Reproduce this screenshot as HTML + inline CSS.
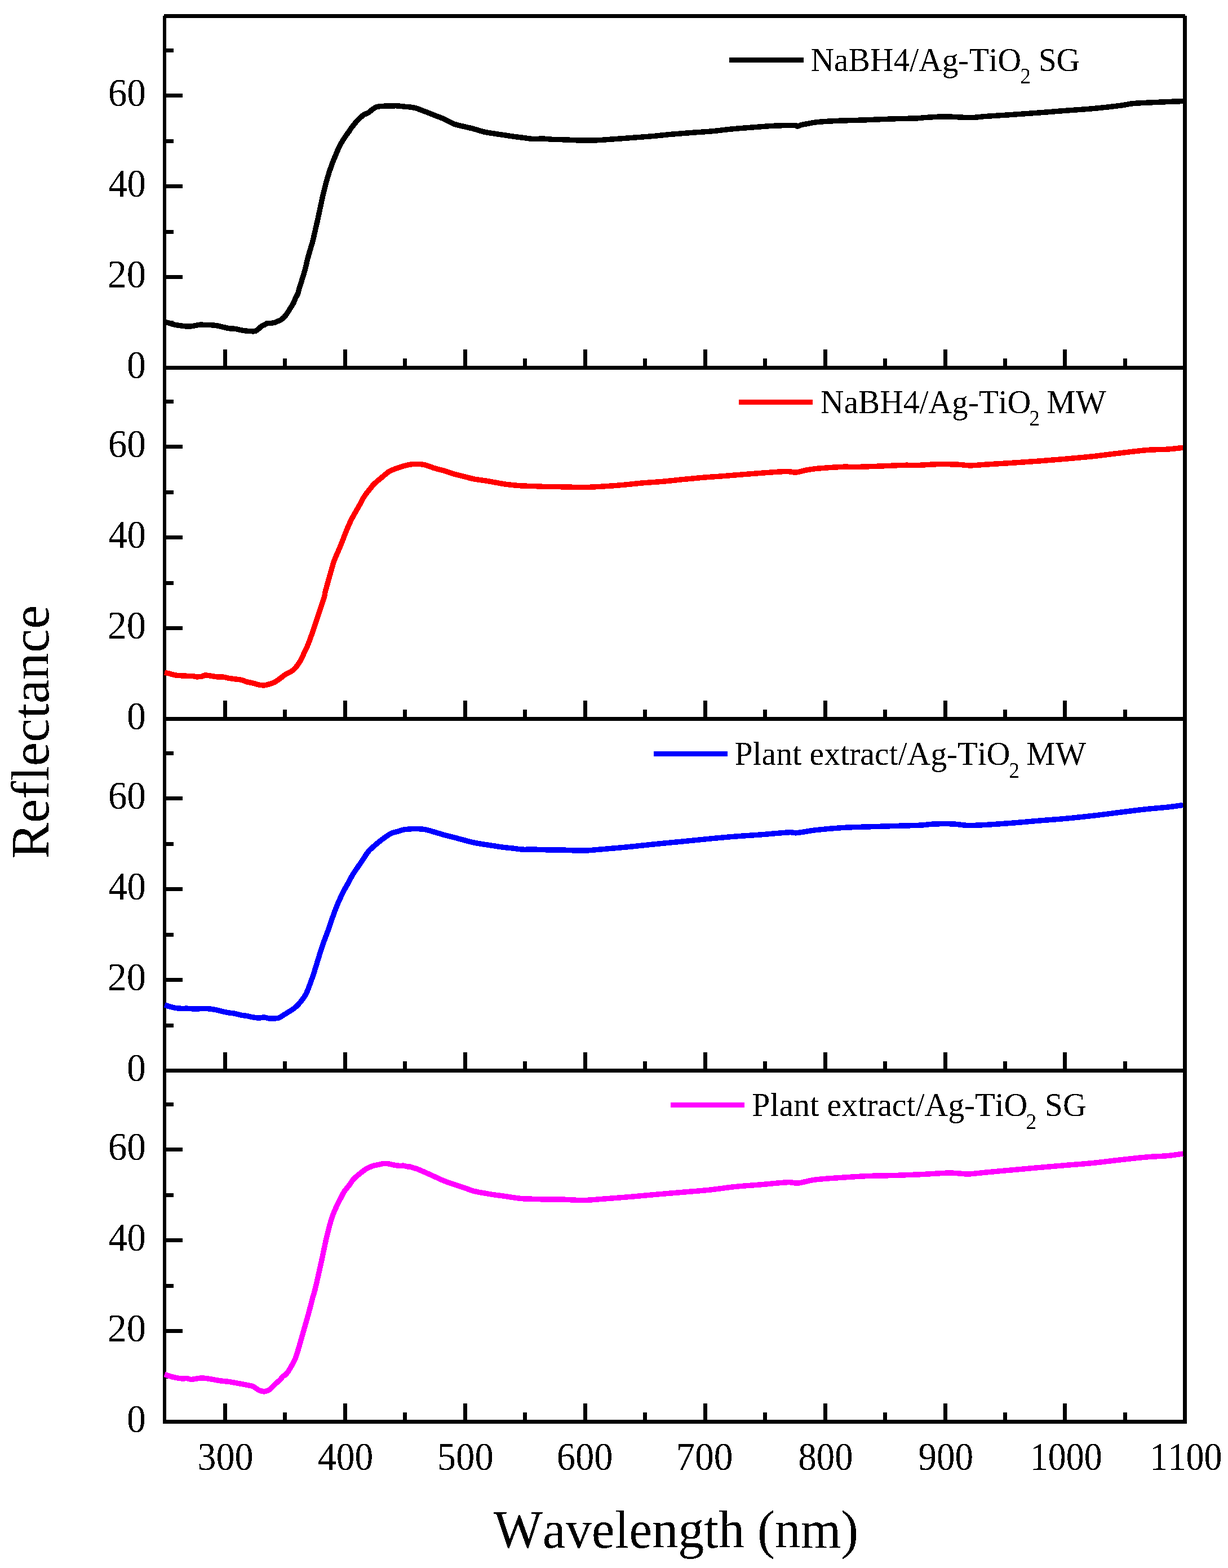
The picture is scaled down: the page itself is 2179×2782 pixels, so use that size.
<!DOCTYPE html>
<html><head><meta charset="utf-8"><title>Reflectance vs Wavelength</title>
<style>html,body{margin:0;padding:0;background:#fff;}svg{display:block;}text{font-kerning:none;}</style></head>
<body>
<svg width="2179" height="2782" viewBox="0 0 2179 2782" shape-rendering="crispEdges">
<defs><filter id="bin" filterUnits="userSpaceOnUse" x="0" y="0" width="2179" height="2782"><feComponentTransfer><feFuncA type="discrete" tableValues="0 1"/></feComponentTransfer></filter></defs>
<rect x="0" y="0" width="2179" height="2782" fill="#fff"/>
<rect x="294" y="569" width="14" height="7" fill="#000"/>
<rect x="294" y="488" width="30" height="7" fill="#000"/>
<rect x="294" y="408" width="14" height="7" fill="#000"/>
<rect x="294" y="327" width="30" height="7" fill="#000"/>
<rect x="294" y="247" width="14" height="7" fill="#000"/>
<rect x="294" y="166" width="30" height="7" fill="#000"/>
<rect x="294" y="86" width="14" height="7" fill="#000"/>
<rect x="294" y="1192" width="14" height="7" fill="#000"/>
<rect x="294" y="1111" width="30" height="7" fill="#000"/>
<rect x="294" y="1031" width="14" height="7" fill="#000"/>
<rect x="294" y="950" width="30" height="7" fill="#000"/>
<rect x="294" y="870" width="14" height="7" fill="#000"/>
<rect x="294" y="789" width="30" height="7" fill="#000"/>
<rect x="294" y="709" width="14" height="7" fill="#000"/>
<rect x="294" y="1816" width="14" height="7" fill="#000"/>
<rect x="294" y="1735" width="30" height="7" fill="#000"/>
<rect x="294" y="1655" width="14" height="7" fill="#000"/>
<rect x="294" y="1574" width="30" height="7" fill="#000"/>
<rect x="294" y="1494" width="14" height="7" fill="#000"/>
<rect x="294" y="1413" width="30" height="7" fill="#000"/>
<rect x="294" y="1333" width="14" height="7" fill="#000"/>
<rect x="294" y="2439" width="14" height="7" fill="#000"/>
<rect x="294" y="2358" width="30" height="7" fill="#000"/>
<rect x="294" y="2278" width="14" height="7" fill="#000"/>
<rect x="294" y="2197" width="30" height="7" fill="#000"/>
<rect x="294" y="2117" width="14" height="7" fill="#000"/>
<rect x="294" y="2036" width="30" height="7" fill="#000"/>
<rect x="294" y="1956" width="14" height="7" fill="#000"/>
<rect x="396" y="620" width="6.5" height="30" fill="#000"/>
<rect x="502" y="636" width="6.5" height="14" fill="#000"/>
<rect x="609" y="620" width="6.5" height="30" fill="#000"/>
<rect x="715" y="636" width="6.5" height="14" fill="#000"/>
<rect x="822" y="620" width="6.5" height="30" fill="#000"/>
<rect x="928" y="636" width="6.5" height="14" fill="#000"/>
<rect x="1035" y="620" width="6.5" height="30" fill="#000"/>
<rect x="1141" y="636" width="6.5" height="14" fill="#000"/>
<rect x="1248" y="620" width="6.5" height="30" fill="#000"/>
<rect x="1354" y="636" width="6.5" height="14" fill="#000"/>
<rect x="1461" y="620" width="6.5" height="30" fill="#000"/>
<rect x="1567" y="636" width="6.5" height="14" fill="#000"/>
<rect x="1674" y="620" width="6.5" height="30" fill="#000"/>
<rect x="1780" y="636" width="6.5" height="14" fill="#000"/>
<rect x="1886" y="620" width="6.5" height="30" fill="#000"/>
<rect x="1993" y="636" width="6.5" height="14" fill="#000"/>
<rect x="396" y="1243" width="6.5" height="30" fill="#000"/>
<rect x="502" y="1259" width="6.5" height="14" fill="#000"/>
<rect x="609" y="1243" width="6.5" height="30" fill="#000"/>
<rect x="715" y="1259" width="6.5" height="14" fill="#000"/>
<rect x="822" y="1243" width="6.5" height="30" fill="#000"/>
<rect x="928" y="1259" width="6.5" height="14" fill="#000"/>
<rect x="1035" y="1243" width="6.5" height="30" fill="#000"/>
<rect x="1141" y="1259" width="6.5" height="14" fill="#000"/>
<rect x="1248" y="1243" width="6.5" height="30" fill="#000"/>
<rect x="1354" y="1259" width="6.5" height="14" fill="#000"/>
<rect x="1461" y="1243" width="6.5" height="30" fill="#000"/>
<rect x="1567" y="1259" width="6.5" height="14" fill="#000"/>
<rect x="1674" y="1243" width="6.5" height="30" fill="#000"/>
<rect x="1780" y="1259" width="6.5" height="14" fill="#000"/>
<rect x="1886" y="1243" width="6.5" height="30" fill="#000"/>
<rect x="1993" y="1259" width="6.5" height="14" fill="#000"/>
<rect x="396" y="1867" width="6.5" height="30" fill="#000"/>
<rect x="502" y="1883" width="6.5" height="14" fill="#000"/>
<rect x="609" y="1867" width="6.5" height="30" fill="#000"/>
<rect x="715" y="1883" width="6.5" height="14" fill="#000"/>
<rect x="822" y="1867" width="6.5" height="30" fill="#000"/>
<rect x="928" y="1883" width="6.5" height="14" fill="#000"/>
<rect x="1035" y="1867" width="6.5" height="30" fill="#000"/>
<rect x="1141" y="1883" width="6.5" height="14" fill="#000"/>
<rect x="1248" y="1867" width="6.5" height="30" fill="#000"/>
<rect x="1354" y="1883" width="6.5" height="14" fill="#000"/>
<rect x="1461" y="1867" width="6.5" height="30" fill="#000"/>
<rect x="1567" y="1883" width="6.5" height="14" fill="#000"/>
<rect x="1674" y="1867" width="6.5" height="30" fill="#000"/>
<rect x="1780" y="1883" width="6.5" height="14" fill="#000"/>
<rect x="1886" y="1867" width="6.5" height="30" fill="#000"/>
<rect x="1993" y="1883" width="6.5" height="14" fill="#000"/>
<rect x="396" y="2490" width="6.5" height="30" fill="#000"/>
<rect x="502" y="2506" width="6.5" height="14" fill="#000"/>
<rect x="609" y="2490" width="6.5" height="30" fill="#000"/>
<rect x="715" y="2506" width="6.5" height="14" fill="#000"/>
<rect x="822" y="2490" width="6.5" height="30" fill="#000"/>
<rect x="928" y="2506" width="6.5" height="14" fill="#000"/>
<rect x="1035" y="2490" width="6.5" height="30" fill="#000"/>
<rect x="1141" y="2506" width="6.5" height="14" fill="#000"/>
<rect x="1248" y="2490" width="6.5" height="30" fill="#000"/>
<rect x="1354" y="2506" width="6.5" height="14" fill="#000"/>
<rect x="1461" y="2490" width="6.5" height="30" fill="#000"/>
<rect x="1567" y="2506" width="6.5" height="14" fill="#000"/>
<rect x="1674" y="2490" width="6.5" height="30" fill="#000"/>
<rect x="1780" y="2506" width="6.5" height="14" fill="#000"/>
<rect x="1886" y="2490" width="6.5" height="30" fill="#000"/>
<rect x="1993" y="2506" width="6.5" height="14" fill="#000"/>
<rect x="291" y="25" width="1812" height="7" fill="#000"/>
<rect x="289" y="649" width="1817" height="7" fill="#000"/>
<rect x="289" y="1272" width="1817" height="7" fill="#000"/>
<rect x="289" y="1896" width="1817" height="7" fill="#000"/>
<rect x="289" y="2519" width="1817" height="7" fill="#000"/>
<rect x="289" y="28" width="6" height="2495" fill="#000"/>
<rect x="2099" y="28" width="7" height="2495" fill="#000"/>
<path d="M292.0,571.5 C292.6,571.6 293.9,571.6 295.3,571.9 C296.7,572.2 297.9,572.6 300.5,573.4 C303.1,574.1 307.6,575.6 311.1,576.4 C314.6,577.1 318.1,577.4 321.6,577.9 C325.1,578.4 328.7,579.0 332.2,579.1 C335.7,579.2 339.2,578.9 342.7,578.4 C346.2,577.9 349.7,576.6 353.2,576.3 C356.7,576.0 360.2,576.3 363.8,576.4 C367.4,576.5 371.4,576.5 375.0,576.7 C378.6,577.0 382.0,577.3 385.5,577.9 C389.0,578.5 392.6,579.5 396.1,580.3 C399.6,581.1 403.1,582.2 406.6,582.7 C410.1,583.2 413.6,582.9 417.1,583.4 C420.6,583.9 424.2,585.1 427.7,585.7 C431.2,586.3 434.7,586.9 438.2,587.2 C441.7,587.6 446.2,587.8 448.8,587.8 C451.4,587.8 452.1,588.0 454.0,587.1 C455.9,586.2 458.2,584.0 460.0,582.5 C461.8,581.0 463.1,579.3 464.7,578.3 C466.3,577.3 467.8,577.2 469.4,576.4 C470.9,575.6 472.1,574.0 474.0,573.5 C475.9,573.0 478.8,573.6 481.1,573.4 C483.5,573.1 486.2,572.6 488.1,572.0 C490.1,571.4 491.2,570.6 492.8,569.9 C494.4,569.2 495.9,568.9 497.5,568.0 C499.1,567.1 500.6,565.9 502.2,564.5 C503.8,563.1 505.2,561.6 506.8,559.6 C508.4,557.6 510.0,555.1 511.5,552.8 C513.0,550.4 514.5,547.9 516.0,545.5 C517.5,543.1 518.8,541.4 520.2,538.7 C521.6,536.0 522.8,532.5 524.2,529.4 C525.7,526.3 527.7,523.2 528.9,520.0 C530.1,516.8 529.6,516.2 531.5,510.0 C533.4,503.8 537.5,491.8 540.1,482.6 C542.7,473.4 544.5,464.2 547.0,455.0 C549.5,445.8 552.6,436.7 555.0,427.5 C557.4,418.3 559.8,406.2 561.3,400.0 C562.8,393.8 562.3,396.2 563.7,390.0 C565.1,383.8 567.5,371.8 569.5,362.6 C571.5,353.4 573.5,344.2 575.8,335.0 C578.1,325.8 580.8,316.0 583.5,307.5 C586.2,299.0 589.9,289.0 591.9,283.8 C593.9,278.6 594.2,278.8 595.3,276.3 C596.4,273.8 597.2,271.1 598.3,268.6 C599.4,266.1 600.6,263.6 601.8,261.2 C603.0,258.8 604.2,256.3 605.5,253.9 C606.8,251.5 608.2,249.2 609.7,246.9 C611.2,244.6 612.5,242.5 614.2,240.1 C615.9,237.7 618.3,234.8 619.8,232.6 C621.3,230.4 622.1,228.7 623.4,226.8 C624.7,225.0 626.1,223.6 627.8,221.5 C629.5,219.4 631.5,216.6 633.6,214.3 C635.7,212.0 638.5,209.6 640.5,207.8 C642.5,206.0 643.6,204.7 645.7,203.4 C647.8,202.1 650.8,201.7 653.3,200.2 C655.8,198.7 658.2,196.0 660.6,194.3 C663.0,192.6 665.5,190.9 667.6,190.0 C669.7,189.1 670.5,189.1 673.0,188.8 C675.5,188.5 679.5,188.4 682.5,188.2 C685.5,188.0 688.0,187.9 690.7,187.8 C693.5,187.7 696.7,187.8 699.0,187.8 C701.3,187.8 701.3,187.6 704.4,187.8 C707.5,188.0 712.5,188.5 717.6,189.1 C722.7,189.7 729.2,189.8 735.1,191.2 C741.0,192.6 746.8,195.1 752.7,197.3 C758.6,199.5 764.4,202.0 770.3,204.3 C776.1,206.6 781.9,208.4 787.8,211.0 C793.6,213.6 799.5,217.6 805.4,219.8 C811.3,222.1 817.1,223.0 823.0,224.5 C828.9,226.0 834.6,227.0 840.5,228.6 C846.4,230.2 852.2,232.4 858.1,233.8 C864.0,235.2 869.9,235.9 875.7,236.8 C881.6,237.8 887.4,238.6 893.2,239.5 C899.1,240.4 904.9,241.3 910.8,242.1 C916.7,242.9 922.5,243.7 928.4,244.4 C934.2,245.1 940.0,246.2 945.9,246.5 C951.8,246.8 957.6,245.9 963.5,246.1 C969.4,246.2 974.9,247.1 981.0,247.4 C987.1,247.7 991.0,247.5 1000.0,247.8 C1009.0,248.1 1024.8,249.0 1035.1,249.2 C1045.3,249.3 1052.7,249.1 1061.5,248.7 C1070.3,248.3 1077.5,247.6 1087.8,246.9 C1098.0,246.2 1111.3,245.2 1123.0,244.3 C1134.7,243.4 1146.4,242.6 1158.1,241.6 C1169.8,240.6 1181.5,239.1 1193.2,238.1 C1204.9,237.1 1216.6,236.2 1228.3,235.3 C1240.0,234.4 1251.5,233.9 1263.5,232.8 C1275.5,231.7 1288.1,229.9 1300.0,228.8 C1311.9,227.7 1323.4,226.9 1335.1,226.0 C1346.8,225.1 1357.8,224.0 1370.3,223.4 C1382.8,222.8 1402.7,222.4 1410.1,222.5 C1417.5,222.6 1412.8,224.3 1414.8,224.1 C1416.8,223.9 1419.3,222.2 1422.0,221.5 C1424.7,220.8 1426.4,220.7 1431.1,219.9 C1435.8,219.1 1440.5,217.5 1449.9,216.6 C1459.3,215.7 1473.4,214.9 1487.4,214.3 C1501.5,213.7 1518.6,213.5 1534.2,212.9 C1549.8,212.3 1565.4,211.5 1581.0,211.0 C1596.6,210.5 1618.1,210.2 1627.9,209.8 C1637.7,209.4 1631.8,209.2 1639.6,208.7 C1647.4,208.2 1664.6,207.0 1674.7,206.8 C1684.8,206.7 1691.8,207.5 1700.0,207.8 C1708.2,208.1 1716.0,208.9 1724.0,208.7 C1732.0,208.5 1736.0,207.4 1748.0,206.5 C1760.0,205.6 1780.0,204.5 1796.0,203.4 C1812.0,202.3 1828.0,201.2 1844.0,200.0 C1860.0,198.8 1876.0,197.4 1892.0,196.2 C1908.0,195.0 1924.0,194.1 1940.0,192.6 C1956.0,191.1 1976.0,188.8 1988.0,187.3 C2000.0,185.8 2000.0,184.5 2012.0,183.5 C2024.0,182.5 2045.5,181.8 2060.0,181.1 C2074.5,180.4 2092.5,179.8 2099.0,179.6" fill="none" stroke="#000" stroke-width="9.5" stroke-linejoin="round" stroke-linecap="butt" shape-rendering="crispEdges"/>
<path d="M292.1,1193.4 C293.5,1193.7 297.3,1194.2 300.5,1195.0 C303.7,1195.8 307.6,1197.4 311.1,1198.0 C314.6,1198.6 318.1,1198.6 321.6,1198.8 C325.1,1199.0 328.7,1199.2 332.2,1199.3 C335.7,1199.4 340.1,1199.2 342.7,1199.5 C345.3,1199.8 345.4,1200.7 348.0,1200.8 C350.6,1200.9 355.9,1200.6 358.5,1200.1 C361.1,1199.6 361.1,1198.0 363.8,1197.9 C366.6,1197.8 371.4,1198.8 375.0,1199.3 C378.6,1199.8 382.0,1200.6 385.5,1200.9 C389.0,1201.2 392.6,1200.8 396.1,1201.2 C399.6,1201.6 403.1,1202.8 406.6,1203.4 C410.1,1204.0 413.6,1204.4 417.1,1204.9 C420.6,1205.4 424.2,1205.4 427.7,1206.2 C431.2,1207.0 434.7,1208.8 438.2,1209.8 C441.7,1210.8 445.2,1211.1 448.8,1212.0 C452.4,1212.9 456.6,1214.6 460.0,1215.2 C463.4,1215.8 466.3,1216.1 469.4,1215.8 C472.5,1215.5 475.6,1214.5 478.7,1213.5 C481.8,1212.5 485.0,1211.7 488.1,1210.0 C491.2,1208.3 494.4,1205.7 497.5,1203.4 C500.6,1201.1 503.7,1198.4 506.8,1196.4 C509.9,1194.4 513.9,1192.8 516.2,1191.5 C518.6,1190.2 519.3,1189.8 520.9,1188.4 C522.5,1187.0 524.0,1185.2 525.6,1183.3 C527.2,1181.3 528.8,1178.9 530.3,1176.7 C531.8,1174.5 532.7,1173.4 534.4,1170.0 C536.1,1166.6 538.4,1161.1 540.5,1156.5 C542.6,1151.9 544.3,1149.5 547.0,1142.6 C549.7,1135.7 553.7,1124.2 556.9,1115.0 C560.1,1105.8 563.0,1096.7 566.1,1087.5 C569.2,1078.3 573.4,1066.2 575.2,1060.0 C577.1,1053.8 575.6,1056.2 577.2,1050.0 C578.8,1043.8 582.2,1031.8 584.8,1022.6 C587.4,1013.4 589.7,1004.2 593.0,995.0 C596.3,985.8 600.9,976.7 604.6,967.5 C608.3,958.3 612.2,947.5 615.3,940.0 C618.4,932.5 620.6,927.7 623.2,922.4 C625.8,917.1 628.3,913.1 630.9,908.4 C633.5,903.7 636.4,899.0 639.0,894.3 C641.6,889.6 643.6,885.0 646.7,880.3 C649.8,875.6 654.9,869.7 657.6,866.2 C660.4,862.7 659.9,862.4 663.2,859.2 C666.5,856.0 672.6,851.1 677.3,847.2 C682.0,843.3 686.6,838.8 691.3,836.0 C696.0,833.2 700.7,832.2 705.4,830.5 C710.1,828.8 714.4,827.2 719.4,826.0 C724.4,824.8 729.5,823.6 735.1,823.4 C740.7,823.1 746.8,823.3 752.7,824.5 C758.6,825.7 764.4,828.7 770.3,830.5 C776.1,832.3 781.9,833.5 787.8,835.2 C793.6,837.0 799.5,839.3 805.4,841.0 C811.3,842.7 817.1,843.9 823.0,845.4 C828.9,846.9 834.6,848.6 840.5,849.8 C846.4,851.0 852.2,851.5 858.1,852.4 C864.0,853.3 869.9,854.4 875.7,855.4 C881.6,856.4 887.4,857.7 893.2,858.6 C899.1,859.5 904.9,860.1 910.8,860.7 C916.7,861.3 922.5,861.8 928.4,862.1 C934.2,862.4 940.0,862.2 945.9,862.4 C951.8,862.6 954.7,863.1 963.5,863.3 C972.3,863.5 986.7,863.6 998.6,863.8 C1010.5,864.0 1023.1,864.7 1035.1,864.6 C1047.0,864.5 1058.6,863.7 1070.3,863.0 C1082.0,862.3 1093.7,861.4 1105.4,860.4 C1117.1,859.4 1128.8,857.9 1140.5,856.9 C1152.2,855.9 1164.0,855.3 1175.7,854.3 C1187.4,853.3 1199.1,851.9 1210.8,850.7 C1222.5,849.6 1234.2,848.4 1245.9,847.4 C1257.6,846.4 1272.0,845.5 1281.0,844.8 C1290.0,844.1 1289.0,844.2 1300.0,843.3 C1311.0,842.4 1331.2,840.7 1346.8,839.6 C1362.4,838.5 1382.8,836.8 1393.7,836.5 C1404.6,836.2 1406.2,838.4 1412.4,838.0 C1418.6,837.6 1424.5,835.1 1431.1,834.0 C1437.7,832.9 1440.9,832.1 1452.2,831.1 C1463.5,830.1 1489.3,828.5 1499.1,828.1 C1508.9,827.7 1501.0,828.8 1510.8,828.6 C1520.5,828.5 1542.0,827.8 1557.6,827.2 C1573.2,826.7 1592.7,825.6 1604.4,825.3 C1616.1,825.0 1618.1,825.8 1627.9,825.5 C1637.7,825.2 1651.0,823.9 1663.0,823.7 C1675.0,823.5 1690.2,823.8 1700.0,824.2 C1709.8,824.6 1713.6,825.9 1721.6,825.9 C1729.6,825.9 1735.6,825.0 1748.0,824.2 C1760.4,823.4 1780.0,822.3 1796.0,821.3 C1812.0,820.3 1828.0,819.2 1844.0,818.0 C1860.0,816.8 1876.0,815.5 1892.0,814.1 C1908.0,812.7 1924.0,811.3 1940.0,809.6 C1956.0,807.9 1972.0,805.6 1988.0,803.8 C2004.0,801.9 2022.0,799.6 2036.0,798.5 C2050.0,797.4 2061.5,797.8 2072.0,797.1 C2082.5,796.4 2094.5,794.7 2099.0,794.2" fill="none" stroke="#ff0000" stroke-width="9.5" stroke-linejoin="round" stroke-linecap="butt" shape-rendering="crispEdges"/>
<path d="M292.1,1782.9 C293.5,1783.4 297.3,1784.9 300.5,1785.8 C303.7,1786.7 307.6,1787.7 311.1,1788.3 C314.6,1788.9 318.1,1789.1 321.6,1789.3 C325.1,1789.5 328.7,1789.1 332.2,1789.2 C335.7,1789.3 339.2,1789.8 342.7,1789.9 C346.2,1790.0 349.7,1789.9 353.2,1789.8 C356.7,1789.7 360.2,1789.4 363.8,1789.5 C367.4,1789.6 371.4,1789.8 375.0,1790.3 C378.6,1790.8 382.0,1791.4 385.5,1792.2 C389.0,1793.0 392.6,1794.2 396.1,1795.0 C399.6,1795.8 403.1,1796.3 406.6,1796.9 C410.1,1797.5 413.6,1797.7 417.1,1798.4 C420.6,1799.1 424.2,1800.4 427.7,1801.1 C431.2,1801.8 434.7,1801.9 438.2,1802.5 C441.7,1803.1 445.2,1804.3 448.8,1804.9 C452.4,1805.5 456.7,1806.0 460.0,1806.0 C463.3,1806.0 465.9,1804.7 468.8,1804.9 C471.7,1805.1 474.7,1806.7 477.6,1807.0 C480.5,1807.3 483.4,1807.2 486.3,1807.0 C489.2,1806.8 492.2,1806.9 495.1,1805.8 C498.0,1804.7 501.0,1802.3 503.9,1800.5 C506.8,1798.7 509.8,1796.9 512.7,1795.0 C515.6,1793.1 518.6,1791.6 521.5,1789.3 C524.4,1787.0 527.4,1784.3 530.3,1781.1 C533.2,1777.9 536.5,1773.5 538.9,1770.0 C541.3,1766.5 541.9,1766.2 544.6,1760.0 C547.3,1753.8 551.7,1741.8 554.9,1732.6 C558.1,1723.4 560.7,1714.2 563.6,1705.0 C566.5,1695.8 569.1,1686.7 572.2,1677.5 C575.4,1668.3 580.2,1656.2 582.5,1650.0 C584.8,1643.8 583.6,1646.3 585.8,1640.1 C588.0,1633.9 592.0,1621.8 595.6,1612.6 C599.2,1603.4 604.2,1592.3 607.7,1585.0 C611.2,1577.7 613.9,1573.8 616.8,1568.5 C619.7,1563.2 622.3,1557.9 625.2,1553.0 C628.1,1548.1 631.2,1543.9 634.3,1539.3 C637.4,1534.7 640.6,1530.0 643.8,1525.3 C647.0,1520.6 649.9,1515.3 653.3,1511.2 C656.7,1507.1 660.6,1503.9 664.2,1500.7 C667.8,1497.5 671.2,1494.7 674.7,1491.9 C678.2,1489.2 681.8,1486.6 685.3,1484.2 C688.8,1481.8 692.3,1479.3 695.8,1477.8 C699.3,1476.3 702.8,1476.2 706.3,1475.2 C709.8,1474.2 713.4,1472.6 716.9,1471.9 C720.4,1471.2 724.5,1471.2 727.4,1471.0 C730.3,1470.8 730.2,1470.4 734.4,1470.5 C738.6,1470.6 746.7,1470.6 752.7,1471.5 C758.7,1472.4 764.4,1474.5 770.3,1476.1 C776.1,1477.7 781.9,1479.7 787.8,1481.3 C793.6,1482.9 799.5,1484.2 805.4,1485.7 C811.3,1487.2 817.1,1489.0 823.0,1490.5 C828.9,1492.0 834.6,1493.7 840.5,1494.9 C846.4,1496.2 852.2,1497.0 858.1,1498.0 C864.0,1499.0 869.9,1499.8 875.7,1500.7 C881.6,1501.6 887.4,1502.5 893.2,1503.3 C899.1,1504.0 904.9,1504.5 910.8,1505.2 C916.7,1505.9 922.5,1506.9 928.4,1507.2 C934.2,1507.5 940.0,1506.9 945.9,1507.0 C951.8,1507.1 954.7,1507.5 963.5,1507.7 C972.3,1507.9 986.7,1507.8 998.6,1508.1 C1010.5,1508.3 1023.1,1509.5 1035.1,1509.2 C1047.0,1509.0 1056.6,1507.7 1070.3,1506.6 C1084.0,1505.5 1101.5,1503.9 1117.1,1502.4 C1132.7,1500.9 1148.3,1499.1 1163.9,1497.5 C1179.5,1495.9 1195.2,1494.5 1210.8,1493.0 C1226.4,1491.5 1242.0,1489.8 1257.6,1488.3 C1273.2,1486.8 1288.8,1485.3 1304.4,1484.1 C1320.0,1482.8 1335.4,1482.0 1351.3,1480.8 C1367.2,1479.6 1389.5,1477.3 1400.0,1476.8 C1410.5,1476.3 1406.3,1478.4 1414.1,1477.7 C1421.9,1477.0 1433.5,1474.3 1446.8,1472.8 C1460.1,1471.3 1478.1,1469.6 1493.7,1468.6 C1509.3,1467.6 1524.9,1467.4 1540.5,1466.9 C1556.1,1466.4 1571.8,1466.0 1587.4,1465.5 C1603.0,1465.0 1622.5,1464.7 1634.2,1464.1 C1645.9,1463.5 1647.8,1462.3 1657.6,1462.0 C1667.3,1461.7 1682.9,1461.6 1692.7,1462.0 C1702.5,1462.4 1707.0,1464.2 1716.2,1464.4 C1725.4,1464.7 1734.7,1464.2 1748.0,1463.5 C1761.3,1462.8 1780.0,1461.4 1796.0,1460.2 C1812.0,1459.0 1828.0,1457.4 1844.0,1456.1 C1860.0,1454.8 1876.0,1453.7 1892.0,1452.2 C1908.0,1450.7 1924.0,1449.0 1940.0,1447.2 C1956.0,1445.4 1972.0,1443.2 1988.0,1441.2 C2004.0,1439.2 2022.0,1436.9 2036.0,1435.4 C2050.0,1433.9 2061.5,1433.2 2072.0,1432.1 C2082.5,1430.9 2094.5,1429.1 2099.0,1428.5" fill="none" stroke="#0000ff" stroke-width="9.5" stroke-linejoin="round" stroke-linecap="butt" shape-rendering="crispEdges"/>
<path d="M292.1,2438.4 C293.5,2438.9 297.3,2440.5 300.5,2441.5 C303.7,2442.5 307.6,2443.5 311.1,2444.2 C314.6,2444.9 318.1,2445.5 321.6,2445.8 C325.1,2446.1 329.1,2445.5 332.2,2445.8 C335.3,2446.1 336.5,2447.5 340.0,2447.4 C343.5,2447.3 349.2,2445.7 353.2,2445.3 C357.2,2445.0 360.2,2445.0 363.8,2445.3 C367.4,2445.6 371.4,2446.4 375.0,2447.0 C378.6,2447.6 382.0,2448.4 385.5,2449.0 C389.0,2449.6 392.6,2450.1 396.1,2450.5 C399.6,2450.9 403.1,2451.0 406.6,2451.5 C410.1,2452.0 413.6,2452.8 417.1,2453.4 C420.6,2454.0 424.2,2454.6 427.7,2455.3 C431.2,2456.0 434.7,2456.7 438.2,2457.4 C441.7,2458.2 445.7,2458.6 448.8,2459.8 C451.9,2461.0 454.8,2463.6 456.7,2464.8 C458.6,2466.0 458.7,2466.2 460.0,2466.8 C461.3,2467.4 463.1,2467.8 464.7,2468.2 C466.3,2468.5 467.8,2469.0 469.4,2468.9 C470.9,2468.8 472.4,2468.1 474.0,2467.5 C475.6,2466.9 477.1,2466.3 478.7,2465.2 C480.3,2464.1 481.8,2462.3 483.4,2460.7 C485.0,2459.1 486.5,2457.3 488.1,2455.8 C489.7,2454.3 491.2,2453.2 492.8,2451.8 C494.4,2450.4 495.9,2449.0 497.5,2447.4 C499.1,2445.8 500.6,2443.4 502.2,2442.0 C503.8,2440.6 505.2,2440.3 506.8,2438.9 C508.4,2437.5 509.9,2435.6 511.5,2433.3 C513.1,2431.0 514.7,2427.6 516.2,2425.1 C517.7,2422.6 518.9,2421.1 520.4,2418.1 C521.9,2415.1 523.2,2412.9 525.2,2407.0 C527.2,2401.1 530.2,2391.3 532.7,2382.6 C535.2,2373.9 537.9,2364.2 540.5,2355.0 C543.1,2345.8 545.8,2336.7 548.3,2327.5 C550.8,2318.3 553.8,2306.2 555.5,2300.0 C557.2,2293.8 556.9,2296.2 558.5,2290.0 C560.1,2283.8 562.8,2271.8 564.9,2262.6 C567.0,2253.4 569.0,2244.2 571.0,2235.0 C573.0,2225.8 574.8,2216.7 576.8,2207.5 C578.8,2198.3 581.7,2186.4 583.3,2180.0 C584.9,2173.6 584.9,2173.7 586.3,2169.1 C587.7,2164.5 589.7,2158.1 591.9,2152.6 C594.1,2147.1 597.1,2140.6 599.3,2136.0 C601.5,2131.4 603.1,2128.7 605.0,2125.0 C606.9,2121.3 608.4,2117.7 610.8,2114.0 C613.2,2110.3 616.8,2106.7 619.6,2103.0 C622.4,2099.3 624.0,2095.7 627.4,2092.0 C630.8,2088.3 637.0,2083.6 640.1,2081.0 C643.2,2078.4 644.0,2078.0 645.9,2076.6 C647.8,2075.2 649.8,2073.9 651.7,2072.8 C653.7,2071.7 655.7,2071.0 657.6,2070.2 C659.5,2069.4 661.5,2068.4 663.4,2067.9 C665.3,2067.4 667.3,2067.3 669.3,2066.9 C671.2,2066.5 673.1,2066.0 675.1,2065.6 C677.1,2065.2 679.0,2064.6 681.0,2064.4 C683.0,2064.2 684.8,2064.4 686.8,2064.6 C688.8,2064.8 690.8,2065.1 692.7,2065.5 C694.7,2065.9 696.5,2066.5 698.5,2066.9 C700.5,2067.3 702.4,2067.7 704.4,2067.9 C706.4,2068.2 708.3,2068.4 710.3,2068.4 C712.2,2068.4 714.1,2068.0 716.1,2068.2 C718.1,2068.4 720.0,2069.4 722.0,2069.7 C724.0,2070.0 725.8,2069.8 727.8,2070.2 C729.8,2070.6 731.8,2071.6 733.7,2072.2 C735.7,2072.8 736.3,2072.6 739.5,2073.8 C742.7,2075.0 747.6,2077.1 752.7,2079.3 C757.8,2081.5 764.4,2084.6 770.3,2087.2 C776.1,2089.8 781.9,2092.8 787.8,2095.1 C793.6,2097.4 799.5,2099.3 805.4,2101.3 C811.3,2103.3 817.1,2105.1 823.0,2107.1 C828.9,2109.1 834.6,2111.6 840.5,2113.2 C846.4,2114.8 852.2,2115.6 858.1,2116.7 C864.0,2117.8 869.9,2118.8 875.7,2119.7 C881.6,2120.6 887.4,2121.2 893.2,2122.0 C899.1,2122.8 904.9,2123.9 910.8,2124.7 C916.7,2125.5 922.5,2126.4 928.4,2126.8 C934.2,2127.2 938.6,2127.1 945.9,2127.3 C953.2,2127.5 963.3,2128.0 972.3,2128.2 C981.3,2128.3 989.5,2128.0 1000.0,2128.2 C1010.5,2128.4 1023.4,2129.8 1035.1,2129.6 C1046.8,2129.4 1056.6,2128.2 1070.3,2127.2 C1084.0,2126.2 1101.5,2124.8 1117.1,2123.5 C1132.7,2122.2 1148.3,2120.7 1163.9,2119.3 C1179.5,2117.9 1195.2,2116.6 1210.8,2115.3 C1226.4,2114.0 1242.0,2112.9 1257.6,2111.3 C1273.2,2109.7 1288.8,2107.1 1304.4,2105.5 C1320.0,2103.9 1335.7,2103.0 1351.3,2101.7 C1366.9,2100.4 1387.2,2098.1 1398.1,2097.7 C1408.9,2097.3 1408.3,2099.9 1416.4,2099.1 C1424.5,2098.3 1433.9,2094.6 1446.8,2093.0 C1459.7,2091.4 1478.1,2090.4 1493.7,2089.3 C1509.3,2088.2 1524.9,2087.1 1540.5,2086.5 C1556.1,2085.9 1571.8,2086.0 1587.4,2085.5 C1603.0,2085.0 1618.6,2084.4 1634.2,2083.7 C1649.8,2083.0 1670.0,2081.4 1681.0,2081.1 C1692.0,2080.8 1693.6,2081.5 1700.0,2081.8 C1706.4,2082.1 1711.2,2083.3 1719.2,2083.0 C1727.2,2082.7 1735.2,2081.4 1748.0,2080.2 C1760.8,2079.0 1780.0,2077.2 1796.0,2075.8 C1812.0,2074.4 1828.0,2072.9 1844.0,2071.5 C1860.0,2070.1 1876.0,2068.8 1892.0,2067.4 C1908.0,2066.1 1924.0,2065.0 1940.0,2063.4 C1956.0,2061.8 1972.0,2059.6 1988.0,2057.8 C2004.0,2056.0 2022.0,2054.0 2036.0,2052.8 C2050.0,2051.6 2061.5,2051.6 2072.0,2050.6 C2082.5,2049.6 2094.5,2047.6 2099.0,2047.0" fill="none" stroke="#ff00ff" stroke-width="9.5" stroke-linejoin="round" stroke-linecap="butt" shape-rendering="crispEdges"/>
<rect x="1294" y="102" width="132" height="9" fill="#000"/>
<rect x="1311" y="709" width="131" height="9" fill="#ff0000"/>
<rect x="1160" y="1333" width="131" height="9" fill="#0000ff"/>
<rect x="1190" y="1956" width="131" height="9" fill="#ff00ff"/>
<g filter="url(#bin)">
<text transform="translate(225.12,671.10) scale(0.9605,1)" font-family="&apos;Liberation Serif&apos;, serif" font-size="70.5">0</text>
<text transform="translate(190.44,510.10) scale(0.9727,1)" font-family="&apos;Liberation Serif&apos;, serif" font-size="70.5">20</text>
<text transform="translate(192.15,349.10) scale(0.9475,1)" font-family="&apos;Liberation Serif&apos;, serif" font-size="70.5">40</text>
<text transform="translate(191.71,188.10) scale(0.9539,1)" font-family="&apos;Liberation Serif&apos;, serif" font-size="70.5">60</text>
<text transform="translate(225.12,1294.10) scale(0.9605,1)" font-family="&apos;Liberation Serif&apos;, serif" font-size="70.5">0</text>
<text transform="translate(190.44,1133.10) scale(0.9727,1)" font-family="&apos;Liberation Serif&apos;, serif" font-size="70.5">20</text>
<text transform="translate(192.15,972.10) scale(0.9475,1)" font-family="&apos;Liberation Serif&apos;, serif" font-size="70.5">40</text>
<text transform="translate(191.71,811.10) scale(0.9539,1)" font-family="&apos;Liberation Serif&apos;, serif" font-size="70.5">60</text>
<text transform="translate(225.12,1918.10) scale(0.9605,1)" font-family="&apos;Liberation Serif&apos;, serif" font-size="70.5">0</text>
<text transform="translate(190.44,1757.10) scale(0.9727,1)" font-family="&apos;Liberation Serif&apos;, serif" font-size="70.5">20</text>
<text transform="translate(192.15,1596.10) scale(0.9475,1)" font-family="&apos;Liberation Serif&apos;, serif" font-size="70.5">40</text>
<text transform="translate(191.71,1435.10) scale(0.9539,1)" font-family="&apos;Liberation Serif&apos;, serif" font-size="70.5">60</text>
<text transform="translate(225.12,2541.10) scale(0.9605,1)" font-family="&apos;Liberation Serif&apos;, serif" font-size="70.5">0</text>
<text transform="translate(190.44,2380.10) scale(0.9727,1)" font-family="&apos;Liberation Serif&apos;, serif" font-size="70.5">20</text>
<text transform="translate(192.15,2219.10) scale(0.9475,1)" font-family="&apos;Liberation Serif&apos;, serif" font-size="70.5">40</text>
<text transform="translate(191.71,2058.10) scale(0.9539,1)" font-family="&apos;Liberation Serif&apos;, serif" font-size="70.5">60</text>
<text transform="translate(350.34,2608.10) scale(0.9379,1)" font-family="&apos;Liberation Serif&apos;, serif" font-size="70.5">300</text>
<text transform="translate(564.02,2608.10) scale(0.9273,1)" font-family="&apos;Liberation Serif&apos;, serif" font-size="70.5">400</text>
<text transform="translate(775.83,2608.10) scale(0.9447,1)" font-family="&apos;Liberation Serif&apos;, serif" font-size="70.5">500</text>
<text transform="translate(987.74,2608.10) scale(0.9427,1)" font-family="&apos;Liberation Serif&apos;, serif" font-size="70.5">600</text>
<text transform="translate(1199.25,2608.10) scale(0.9582,1)" font-family="&apos;Liberation Serif&apos;, serif" font-size="70.5">700</text>
<text transform="translate(1416.54,2608.10) scale(0.9165,1)" font-family="&apos;Liberation Serif&apos;, serif" font-size="70.5">800</text>
<text transform="translate(1629.40,2608.10) scale(0.9237,1)" font-family="&apos;Liberation Serif&apos;, serif" font-size="70.5">900</text>
<text transform="translate(1827.67,2608.10) scale(0.9083,1)" font-family="&apos;Liberation Serif&apos;, serif" font-size="70.5">1000</text>
<text transform="translate(2040.36,2608.10) scale(0.9098,1)" font-family="&apos;Liberation Serif&apos;, serif" font-size="70.5">1100</text>
<text transform="translate(875.81,2746.30) scale(0.9620,1)" font-family="&apos;Liberation Serif&apos;, serif" font-size="95.8">Wavelength (nm)</text>
<text transform="translate(86,1523.55) rotate(-90)" font-family="&apos;Liberation Serif&apos;, serif" font-size="95.4">Reflectance</text>
<text transform="translate(1438.54,125.90) scale(0.9630,1)" font-family="&apos;Liberation Serif&apos;, serif" font-size="59.7">NaBH4/Ag-TiO<tspan x="386.09" y="21.90" font-size="39.0">2</tspan><tspan x="404.71" y="0"> SG</tspan></text>
<text transform="translate(1456.05,732.50) scale(0.9620,1)" font-family="&apos;Liberation Serif&apos;, serif" font-size="59.7">NaBH4/Ag-TiO<tspan x="384.93" y="22.10" font-size="39.0">2</tspan><tspan x="402.23" y="0"> MW</tspan></text>
<text transform="translate(1303.44,1356.80) scale(0.9670,1)" font-family="&apos;Liberation Serif&apos;, serif" font-size="59.7">Plant extract/Ag-TiO<tspan x="503.52" y="23.00" font-size="39.0">2</tspan><tspan x="520.55" y="0"> MW</tspan></text>
<text transform="translate(1334.34,1979.90) scale(0.9670,1)" font-family="&apos;Liberation Serif&apos;, serif" font-size="59.7">Plant extract/Ag-TiO<tspan x="502.80" y="23.20" font-size="39.0">2</tspan><tspan x="522.30" y="0"> SG</tspan></text>
</g>
</svg>
</body></html>
